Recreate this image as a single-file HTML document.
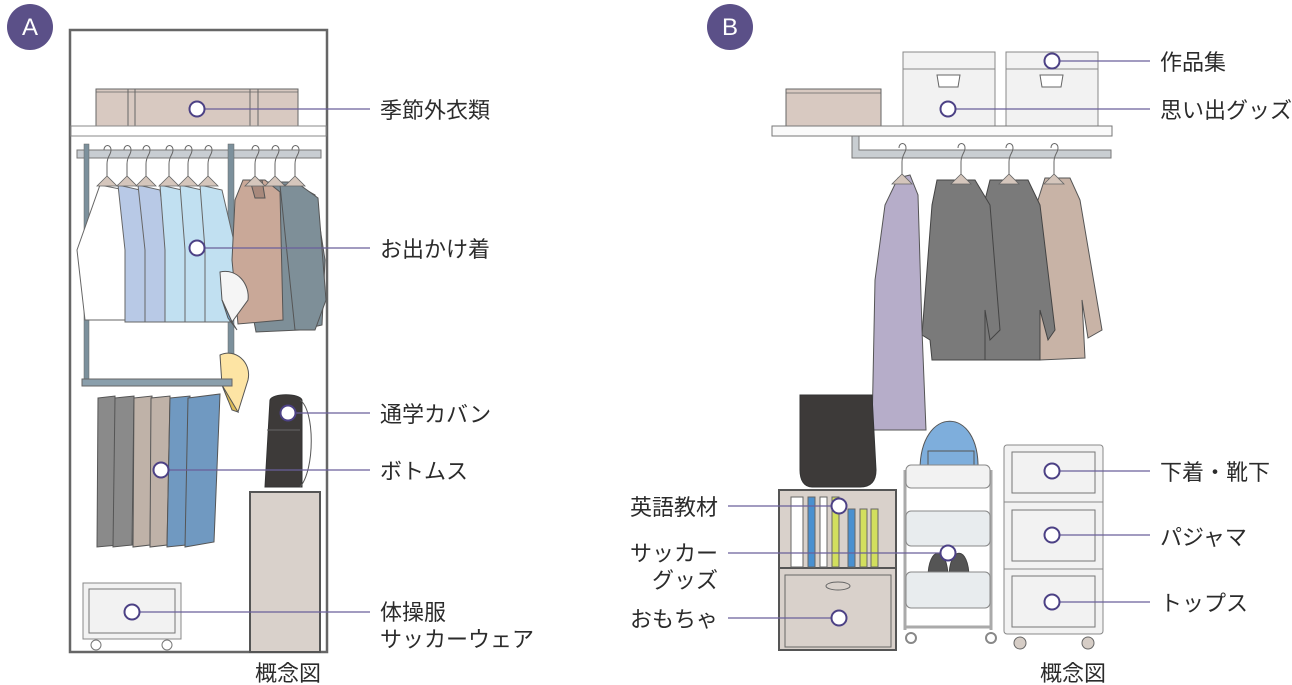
<!DOCTYPE html>
<html><head><meta charset="utf-8"><style>
html,body{margin:0;padding:0;background:#fff;}
svg{display:block;}
text{font-family:"Liberation Sans","Noto Sans CJK JP",sans-serif;font-size:22px;fill:#2b2b2b;}
</style></head><body>
<svg width="1292" height="685" viewBox="0 0 1292 685" xmlns="http://www.w3.org/2000/svg">
<defs>
<g id="hg"><path d="M0,0 c0,-6 7,-6 7,0 c0,5 -4,6 -4,14 l0,14" fill="none" stroke="#666" stroke-width="1"/><path d="M3,26 L-7,36 L13,36 Z" fill="#d5c6bc" stroke="#666" stroke-width="0.8"/></g>
</defs>
<!-- ===== Panel A ===== -->
<circle cx="30" cy="27" r="23" fill="#5b5088"/>
<text x="30" y="35" text-anchor="middle" style="fill:#fff;font-size:24px">A</text>
<rect x="70" y="30" width="257" height="622" fill="#fff" stroke="#666" stroke-width="2.5"/>
<rect x="96" y="89" width="202" height="37" fill="#d8c9c1" stroke="#666"/>
<line x1="96" y1="92" x2="298" y2="92" stroke="#666" stroke-width="0.8"/>
<line x1="128" y1="89" x2="128" y2="126" stroke="#666"/><line x1="135" y1="89" x2="135" y2="126" stroke="#666"/>
<line x1="250" y1="89" x2="250" y2="126" stroke="#666"/><line x1="258" y1="89" x2="258" y2="126" stroke="#666"/>
<rect x="71" y="126" width="255" height="10" fill="#fff" stroke="#888"/>
<rect x="77" y="150" width="244" height="8" fill="#c8cdd2" stroke="#777"/>
<rect x="84" y="144" width="5" height="240" fill="#7c909c" stroke="#666" stroke-width="0.5"/>
<rect x="228" y="144" width="6" height="240" fill="#7c909c" stroke="#666" stroke-width="0.5"/>
<line x1="89" y1="320" x2="228" y2="320" stroke="#666"/>
<!-- shirts -->
<path d="M100,185 L125,190 L134,250 L135,320 L85,320 L77,250 Z" fill="#fff" stroke="#666"/>
<path d="M118,185 L140,190 L148,250 L148,322 L125,322 L125,250 Z" fill="#b8c9e6" stroke="#666"/>
<path d="M138,185 L160,190 L168,250 L168,322 L145,322 L145,250 Z" fill="#b8c9e6" stroke="#666"/>
<path d="M160,185 L182,190 L190,250 L190,322 L165,322 L165,250 Z" fill="#c1e0f1" stroke="#666"/>
<path d="M180,185 L202,190 L210,250 L210,322 L185,322 L185,250 Z" fill="#c1e0f1" stroke="#666"/>
<path d="M200,185 L222,190 L236,250 L230,322 L205,322 L205,250 Z" fill="#c1e0f1" stroke="#666"/>
<!-- coats -->
<path d="M262,182 L292,182 L315,195 L325,260 L322,325 L300,330 L256,332 L250,300 Z" fill="#7e8f98" stroke="#555"/>
<path d="M280,185 L300,185 L318,198 L326,300 L315,330 L295,330 Z" fill="#7e8f98" stroke="#555"/>
<path d="M243,180 L265,180 L280,192 L283,320 L238,324 L232,260 L235,200 Z" fill="#c9a898" stroke="#555"/>
<path d="M250,180 L262,180 L265,198 L255,198 Z" fill="#a8897c" stroke="#555"/>
<!-- hangers -->
<g transform="translate(104,150)"><use href="#hg"/></g>
<g transform="translate(124,150)"><use href="#hg"/></g>
<g transform="translate(143,150)"><use href="#hg"/></g>
<g transform="translate(166,150)"><use href="#hg"/></g>
<g transform="translate(185,150)"><use href="#hg"/></g>
<g transform="translate(205,150)"><use href="#hg"/></g>
<g transform="translate(252,150)"><use href="#hg"/></g>
<g transform="translate(272,150)"><use href="#hg"/></g>
<g transform="translate(292,150)"><use href="#hg"/></g>
<!-- caps -->
<path d="M220,272 C238,268 250,285 248,300 L232,322 L222,300 Z" fill="#f5f5f5" stroke="#555"/>
<path d="M222,300 L232,322 L237,330 L228,318 Z" fill="#77aad6" stroke="#555"/>
<path d="M220,355 C235,348 252,362 248,380 L238,412 L228,400 L222,385 Z" fill="#fde4a4" stroke="#555"/>
<path d="M222,385 L238,412 L232,410 Z" fill="#dcbb55" stroke="#555"/>
<rect x="82" y="379" width="150" height="7" fill="#8a9fac" stroke="#666"/>
<!-- pants -->
<path d="M98,398 L115,396 L118,545 L97,547 Z" fill="#8a8a8a" stroke="#555"/>
<path d="M115,398 L134,396 L132,545 L113,547 Z" fill="#8a8a8a" stroke="#555"/>
<path d="M134,398 L152,396 L150,545 L133,547 Z" fill="#bfb2a8" stroke="#555"/>
<path d="M151,398 L170,396 L167,545 L150,547 Z" fill="#bfb2a8" stroke="#555"/>
<path d="M170,398 L190,396 L186,545 L167,547 Z" fill="#7099c1" stroke="#555"/>
<path d="M188,398 L220,394 L214,542 L185,547 Z" fill="#7099c1" stroke="#555"/>
<!-- bag -->
<path d="M270,400 C272,393 300,393 302,400 L302,487 L265,487 Z" fill="#3d3a39" stroke="#333"/>
<path d="M300,400 C315,410 315,470 300,487" fill="none" stroke="#555"/>
<line x1="267" y1="430" x2="300" y2="430" stroke="#666"/>
<rect x="250" y="492" width="70" height="160" fill="#d9d1cb" stroke="#555" stroke-width="2"/>
<rect x="83" y="583" width="98" height="56" fill="#f2f2f2" stroke="#888"/>
<rect x="89" y="589" width="86" height="44" fill="#f2f2f2" stroke="#777"/>
<circle cx="96" cy="645" r="5" fill="#fff" stroke="#777"/>
<circle cx="167" cy="645" r="5" fill="#fff" stroke="#777"/>
<g stroke="#6a5f9a" stroke-width="1.2">
<line x1="197" y1="109" x2="370" y2="109"/>
<line x1="197" y1="248" x2="370" y2="248"/>
<line x1="288" y1="413" x2="370" y2="413"/>
<line x1="161" y1="470" x2="370" y2="470"/>
<line x1="132" y1="612" x2="370" y2="612"/>
</g>
<g fill="#fff" stroke="#4c4185" stroke-width="2">
<circle cx="197" cy="109" r="7.5"/><circle cx="197" cy="248" r="7.5"/><circle cx="288" cy="413" r="7.5"/><circle cx="161" cy="470" r="7.5"/><circle cx="132" cy="612" r="7.5"/>
</g>
<text x="380" y="118">季節外衣類</text>
<text x="380" y="257">お出かけ着</text>
<text x="380" y="422">通学カバン</text>
<text x="380" y="479">ボトムス</text>
<text x="380" y="620">体操服</text>
<text x="380" y="647">サッカーウェア</text>
<text x="255" y="681">概念図</text>

<!-- ===== Panel B ===== -->
<circle cx="730" cy="27" r="23" fill="#5b5088"/>
<text x="730" y="35" text-anchor="middle" style="fill:#fff;font-size:24px">B</text>
<rect x="786" y="89" width="95" height="37" fill="#d8c9c1" stroke="#666"/>
<line x1="786" y1="93" x2="881" y2="93" stroke="#666" stroke-width="0.8"/>
<rect x="903" y="52" width="92" height="74" fill="#f2f2f2" stroke="#888"/>
<line x1="903" y1="69" x2="995" y2="69" stroke="#888"/>
<path d="M937,75 L960,75 L958,87 L939,87 Z" fill="#fff" stroke="#666"/>
<rect x="1006" y="52" width="92" height="74" fill="#f2f2f2" stroke="#888"/>
<line x1="1006" y1="69" x2="1098" y2="69" stroke="#888"/>
<path d="M1040,75 L1063,75 L1061,87 L1042,87 Z" fill="#fff" stroke="#666"/>
<rect x="772" y="126" width="340" height="10" fill="#fafafa" stroke="#777"/>
<path d="M852,136 L859,136 L859,150 L1111,150 L1111,158 L852,158 Z" fill="#c9ced2" stroke="#777"/>
<!-- coats B -->
<path d="M1045,178 L1070,178 L1080,200 L1102,330 L1088,338 L1082,300 L1085,358 L1040,360 L1038,200 Z" fill="#c8b3a6" stroke="#555"/>
<path d="M990,180 L1028,180 L1040,205 L1055,330 L1048,340 L1040,310 L1040,360 L985,360 L985,200 Z" fill="#7a7a7a" stroke="#444"/>
<path d="M937,180 L975,180 L990,205 L1000,330 L990,340 L985,310 L985,360 L932,360 L930,340 L922,335 L932,205 Z" fill="#7a7a7a" stroke="#444"/>
<path d="M898,178 L910,175 L918,195 L922,330 L926,430 L872,430 L875,280 L885,205 Z" fill="#b6adc9" stroke="#555"/>
<g transform="translate(899,148)"><use href="#hg"/></g>
<g transform="translate(958,148)"><use href="#hg"/></g>
<g transform="translate(1006,148)"><use href="#hg"/></g>
<g transform="translate(1051,148)"><use href="#hg"/></g>
<path d="M800,395 L872,395 L876,470 C876,482 870,487 860,487 L812,487 C804,487 800,480 800,470 Z" fill="#3d3a39" stroke="#333"/>
<rect x="779" y="490" width="117" height="160" fill="#d9d1cb" stroke="#555" stroke-width="2"/>
<line x1="779" y1="568" x2="896" y2="568" stroke="#555" stroke-width="2"/>
<rect x="785" y="575" width="106" height="72" fill="#d9d1cb" stroke="#666"/>
<ellipse cx="838" cy="586" rx="12" ry="4" fill="#d9d1cb" stroke="#666"/>
<rect x="791" y="497" width="12" height="70" fill="#fff" stroke="#666"/>
<rect x="808" y="497" width="7" height="70" fill="#4a90d0" stroke="#666"/>
<rect x="820" y="497" width="7" height="70" fill="#fff" stroke="#666"/>
<rect x="832" y="497" width="7" height="70" fill="#d2df5e" stroke="#666"/>
<rect x="848" y="509" width="7" height="58" fill="#4a90d0" stroke="#666"/>
<rect x="860" y="509" width="7" height="58" fill="#d2df5e" stroke="#666"/>
<rect x="871" y="509" width="7" height="58" fill="#d2df5e" stroke="#666"/>
<!-- cart -->
<path d="M920,470 C920,405 980,405 978,470 Z" fill="#7eaedc" stroke="#555"/>
<rect x="928" y="451" width="46" height="18" fill="#7eaedc" stroke="#555"/>
<line x1="905" y1="470" x2="905" y2="630" stroke="#aaa" stroke-width="3"/>
<line x1="991" y1="470" x2="991" y2="630" stroke="#aaa" stroke-width="3"/>
<rect x="906" y="465" width="84" height="23" rx="5" fill="#f2f2f2" stroke="#888"/>
<rect x="906" y="511" width="84" height="35" rx="5" fill="#e8ecee" stroke="#888"/>
<path d="M928,578 C928,545 948,545 948,578 Z" fill="#555" stroke="#444"/>
<path d="M949,578 C949,545 969,545 969,578 Z" fill="#555" stroke="#444"/>
<rect x="906" y="572" width="84" height="36" rx="5" fill="#e8ecee" stroke="#888"/>
<line x1="905" y1="627" x2="991" y2="627" stroke="#aaa" stroke-width="3"/>
<circle cx="911" cy="638" r="5" fill="#fff" stroke="#888" stroke-width="2"/>
<circle cx="991" cy="638" r="5" fill="#fff" stroke="#888" stroke-width="2"/>
<!-- drawers -->
<rect x="1004" y="445" width="99" height="189" rx="3" fill="#f2f2f2" stroke="#888"/>
<line x1="1004" y1="502" x2="1103" y2="502" stroke="#888"/>
<line x1="1004" y1="569" x2="1103" y2="569" stroke="#888"/>
<rect x="1012" y="452" width="83" height="41" fill="#f2f2f2" stroke="#777"/>
<rect x="1012" y="510" width="83" height="51" fill="#f2f2f2" stroke="#777"/>
<rect x="1012" y="576" width="83" height="51" fill="#f2f2f2" stroke="#777"/>
<circle cx="1020" cy="643" r="6" fill="#d6cdc6" stroke="#666"/>
<circle cx="1088" cy="643" r="6" fill="#d6cdc6" stroke="#666"/>
<g stroke="#6a5f9a" stroke-width="1.2">
<line x1="1052" y1="61" x2="1150" y2="61"/>
<line x1="948" y1="109" x2="1150" y2="109"/>
<line x1="1052" y1="471" x2="1150" y2="471"/>
<line x1="1052" y1="535" x2="1150" y2="535"/>
<line x1="1052" y1="602" x2="1150" y2="602"/>
<line x1="728" y1="506" x2="839" y2="506"/>
<line x1="728" y1="553" x2="948" y2="553"/>
<line x1="728" y1="618" x2="839" y2="618"/>
</g>
<g fill="#fff" stroke="#4c4185" stroke-width="2">
<circle cx="1052" cy="61" r="7.5"/><circle cx="948" cy="109" r="7.5"/>
<circle cx="1052" cy="471" r="7.5"/><circle cx="1052" cy="535" r="7.5"/><circle cx="1052" cy="602" r="7.5"/>
<circle cx="839" cy="506" r="7.5"/><circle cx="948" cy="553" r="7.5"/><circle cx="839" cy="618" r="7.5"/>
</g>
<text x="1160" y="70">作品集</text>
<text x="1160" y="118">思い出グッズ</text>
<text x="1160" y="480">下着・靴下</text>
<text x="1160" y="545">パジャマ</text>
<text x="1160" y="611">トップス</text>
<text x="718" y="515" text-anchor="end">英語教材</text>
<text x="718" y="561" text-anchor="end">サッカー</text>
<text x="718" y="588" text-anchor="end">グッズ</text>
<text x="718" y="627" text-anchor="end">おもちゃ</text>
<text x="1040" y="681">概念図</text>
</svg>
</body></html>
